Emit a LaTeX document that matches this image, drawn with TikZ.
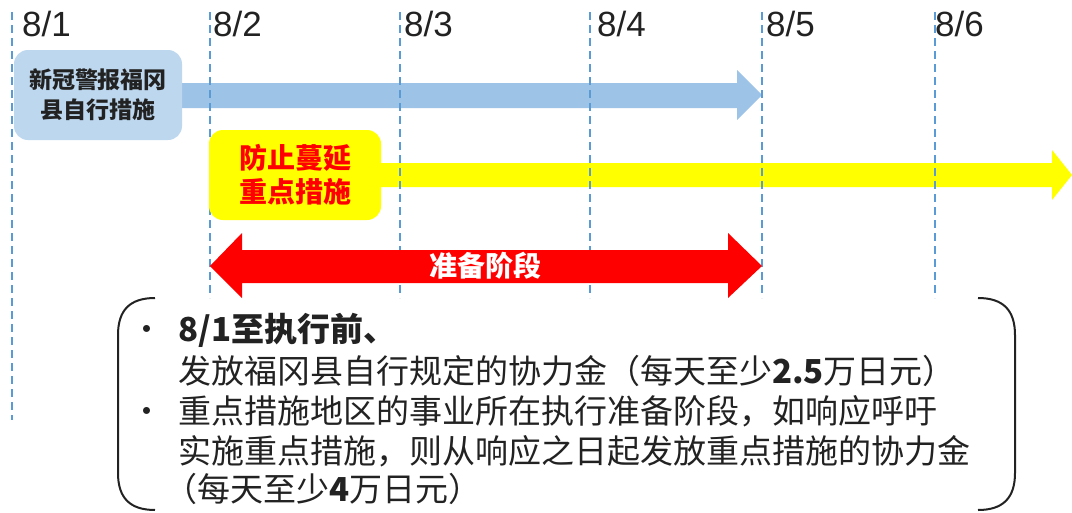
\documentclass[tikz,border=0pt]{standalone}
\usepackage{fontspec}
\setmainfont{Liberation Sans}
\newfontfamily\cjk{Noto Sans CJK SC}
\definecolor{boxblue}{HTML}{BDD7EE}
\definecolor{arrowblue}{HTML}{9DC3E6}
\definecolor{lineblue}{HTML}{5B9BD5}
\definecolor{brightyellow}{HTML}{FFFF00}
\definecolor{brightred}{HTML}{FF0000}
\definecolor{inkdark}{HTML}{222222}
\begin{document}
\begin{tikzpicture}[x=1pt,y=-1pt,
  dateline/.style={draw=lineblue,line width=1.2pt,dash pattern=on 8pt off 5pt},
  datelabel/.style={anchor=base west,inner sep=0pt,font=\fontsize{35}{38}\selectfont,text=inkdark},
  tagbox/.style={rounded corners=14pt,minimum width=168pt,minimum height=90pt,inner sep=0pt,align=center},
  bodytext/.style={anchor=base west,inner sep=0pt,font=\cjk\fontsize{33}{40}\selectfont,text=inkdark},
  bracketline/.style={draw=inkdark,line width=2pt}
]
\useasboundingbox (0,0) rectangle (1072,512);

% blue arrow (shaft + head)
\fill[arrowblue] (170,83) -- (737,83) -- (737,70) -- (762,95) -- (737,120) -- (737,108) -- (170,108) -- cycle;
% yellow arrow
\fill[brightyellow] (370,163) -- (1052,163) -- (1052,150) -- (1072,175) -- (1052,200) -- (1052,187) -- (370,187) -- cycle;

% date lines
\draw[dateline] (12,12) -- (12,420);
\foreach \x in {210,400,590,762,935} \draw[dateline] (\x,12) -- (\x,298);

% date labels
\node[datelabel] (d1) at (22,36) {8/1};
\node[datelabel] (d2) at (213,36) {8/2};
\node[datelabel] (d3) at (404,36) {8/3};
\node[datelabel] (d4) at (597,36) {8/4};
\node[datelabel] (d5) at (766,36) {8/5};
\node[datelabel] (d6) at (935,36) {8/6};

% boxes
\node[tagbox,fill=boxblue,text=inkdark,font=\cjk\bfseries\fontsize{23}{30}\selectfont] (bluebox) at (98,95) {新冠警报福冈\\县自行措施};
\node[tagbox,fill=brightyellow,minimum width=172pt,text=brightred,font=\cjk\bfseries\fontsize{28}{34}\selectfont] (yellowbox) at (295,175) {防止蔓延\\重点措施};

% red double arrow
\fill[brightred] (210,266) -- (242,233) -- (242,250) -- (728,250) -- (728,233) -- (762,266) -- (728,298) -- (728,283) -- (242,283) -- (242,298) -- cycle;
\node[text=white,font=\cjk\bfseries\fontsize{28}{30}\selectfont,inner sep=0pt] (prep) at (485,266) {准备阶段};

% bracket box
\draw[bracketline] (155,298) .. controls (130,298) and (118,310) .. (118,335) -- (118,473) .. controls (118,498) and (130,510) .. (155,510);
\draw[bracketline] (978,298) .. controls (1003,298) and (1015,310) .. (1015,335) -- (1015,473) .. controls (1015,498) and (1003,510) .. (978,510);

% text
\node[bodytext] (b1) at (130,341) {・};
\node[bodytext] (b2) at (130,423) {・};
\node[bodytext,font=\cjk\bfseries\fontsize{33}{40}\selectfont] (t1) at (178,341) {8/1至执行前、};
\node[bodytext] (t2) at (178,383) {发放福冈县自行规定的协力金（每天至少\textbf{2.5}万日元）};
\node[bodytext] (t3) at (178,423) {重点措施地区的事业所在执行准备阶段，如响应呼吁};
\node[bodytext] (t4) at (178,463) {实施重点措施，则从响应之日起发放重点措施的协力金};
\node[bodytext] (t5) at (164,501) {（每天至少\textbf{4}万日元）};
\end{tikzpicture}
\end{document}
